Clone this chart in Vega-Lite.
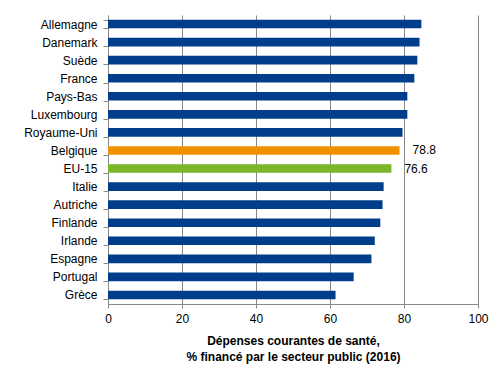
{
  "$schema": "https://vega.github.io/schema/vega-lite/v6.json",
  "autosize": "none",
  "padding": {"left": 108, "top": 15, "right": 21, "bottom": 63},
  "width": 370,
  "height": 289,
  "background": "white",
  "config": {"view": {"stroke": null}, "font": "Liberation Sans"},
  "data": {"values": [
    {"pays": "Allemagne", "v": 84.7, "g": "c"},
    {"pays": "Danemark", "v": 84.2, "g": "c"},
    {"pays": "Suède", "v": 83.6, "g": "c"},
    {"pays": "France", "v": 82.8, "g": "c"},
    {"pays": "Pays-Bas", "v": 80.9, "g": "c"},
    {"pays": "Luxembourg", "v": 80.9, "g": "c"},
    {"pays": "Royaume-Uni", "v": 79.6, "g": "c"},
    {"pays": "Belgique", "v": 78.8, "g": "b", "lab": "78.8"},
    {"pays": "EU-15", "v": 76.6, "g": "e", "lab": "76.6"},
    {"pays": "Italie", "v": 74.5, "g": "c"},
    {"pays": "Autriche", "v": 74.2, "g": "c"},
    {"pays": "Finlande", "v": 73.6, "g": "c"},
    {"pays": "Irlande", "v": 72.1, "g": "c"},
    {"pays": "Espagne", "v": 71.2, "g": "c"},
    {"pays": "Portugal", "v": 66.4, "g": "c"},
    {"pays": "Grèce", "v": 61.5, "g": "c"}
  ]},
  "encoding": {
    "y": {"field": "pays", "type": "nominal", "sort": null,
      "scale": {"paddingInner": 0.52, "paddingOuter": 0.26},
      "axis": {"title": null, "labelFontSize": 12, "labelColor": "#000", "labelPadding": 6,
        "domainColor": "#888", "tickColor": "#888", "tickSize": 5, "tickBand": "extent", "labelFont": "Liberation Sans"}},
    "x": {"field": "v", "type": "quantitative",
      "scale": {"domain": [0, 100]},
      "axis": {"values": [0, 20, 40, 60, 80, 100], "grid": true, "gridColor": "#888", "domainColor": "#888",
        "tickColor": "#888", "tickSize": 4, "labelFontSize": 12, "labelColor": "#000", "labelPadding": 5,
        "labelFlush": false,
        "title": ["Dépenses  courantes de santé,", "%  financé par le secteur public (2016)"],
        "titleFontSize": 12, "titleFontWeight": "bold", "titleColor": "#000", "titlePadding": 11, "titleLineHeight": 16}}
  },
  "layer": [
    {"mark": {"type": "bar"},
     "encoding": {"color": {"field": "g", "type": "nominal",
       "scale": {"domain": ["c", "b", "e"], "range": ["#003E8C", "#F29100", "#7AB52A"]}, "legend": null}}},
    {"transform": [{"filter": "isValid(datum.lab)"}],
     "mark": {"type": "text", "align": "left", "dx": 13, "fontSize": 12, "color": "#000"},
     "encoding": {"text": {"field": "lab"}}}
  ]
}
